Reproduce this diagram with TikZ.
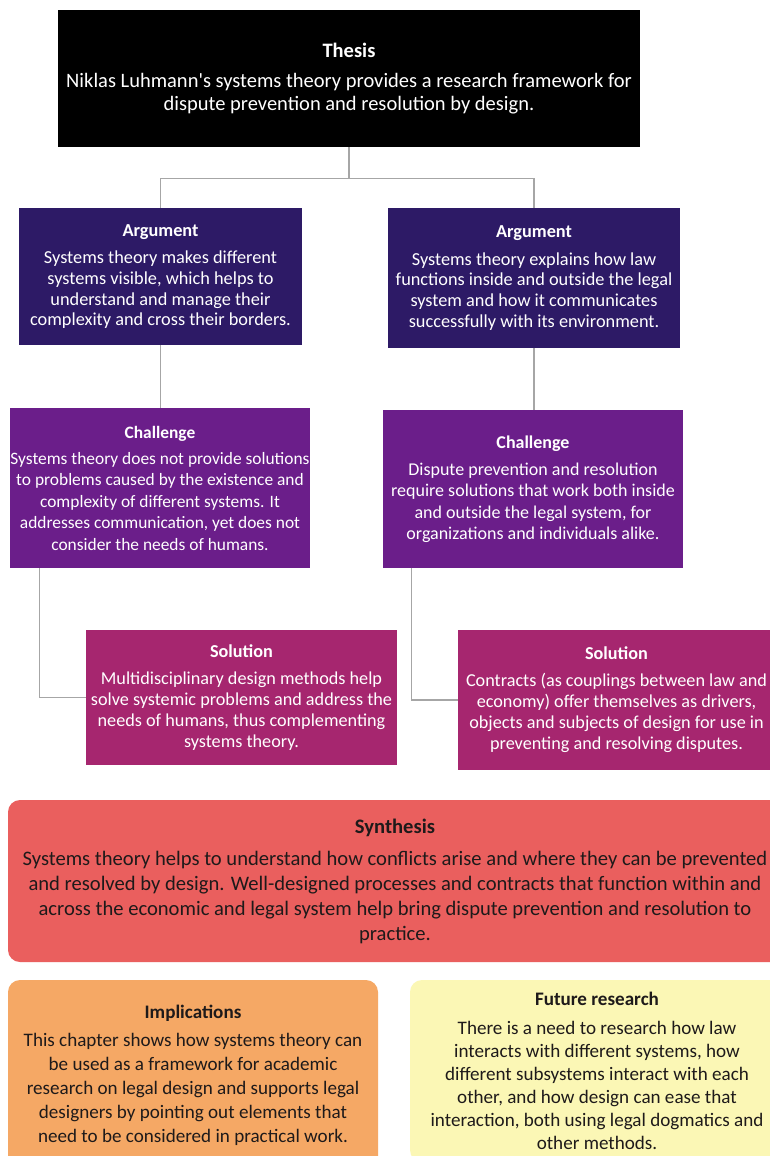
\documentclass[tikz,border=0pt]{standalone}
\usepackage{fontspec}
\setmainfont{Carlito}
\definecolor{argcol}{HTML}{2D1A66}
\definecolor{chalcol}{HTML}{6B1E8A}
\definecolor{solcol}{HTML}{A6266F}
\definecolor{syncol}{HTML}{EA5F5E}
\definecolor{impcol}{HTML}{F5A865}
\definecolor{futcol}{HTML}{FBF7B5}
\definecolor{conncol}{HTML}{A6A6A6}
\definecolor{darktext}{HTML}{1E1A1A}
\begin{document}
\begin{tikzpicture}[x=1pt,y=1pt,
  box/.style={rectangle, inner sep=0pt, align=center, text=white, anchor=center},
  conn/.style={draw=conncol, line width=1.3pt}]
\useasboundingbox (0,0) rectangle (770,-1156);
\fill[white] (0,0) rectangle (770,-1156);

\node[box, fill=black, minimum width=582, minimum height=137,
  font=\fontsize{20.5}{22.5}\selectfont] (thesis) at (349,-78.5)
  {\bfseries Thesis\\[8pt]Niklas Luhmann\textquotesingle s systems theory provides a research framework for\\dispute prevention and resolution by design.};

\node[box, fill=argcol, minimum width=283, minimum height=137,
  font=\fontsize{18.3}{20.7}\selectfont] (argL) at (160.5,-276.5)
  {\bfseries Argument\\[7pt]Systems theory makes different\\systems visible, which helps to\\understand and manage their\\complexity and cross their borders.};

\node[box, fill=argcol, minimum width=292, minimum height=140,
  font=\fontsize{18.3}{20.7}\selectfont] (argR) at (534,-278)
  {\bfseries Argument\\[7pt]Systems theory explains how law\\functions inside and outside the legal\\system and how it communicates\\successfully with its environment.};

\node[box, fill=chalcol, minimum width=300, minimum height=160,
  font=\fontsize{17.4}{21.5}\selectfont] (chalL) at (160,-488)
  {\bfseries Challenge\\[4.5pt]Systems theory does not provide solutions\\to problems caused by the existence and\\complexity of different systems. It\\addresses communication, yet does not\\consider the needs of humans.};

\node[box, fill=chalcol, minimum width=300, minimum height=158,
  font=\fontsize{18}{21.5}\selectfont] (chalR) at (533,-489)
  {\bfseries Challenge\\[5.5pt]Dispute prevention and resolution\\require solutions that work both inside\\and outside the legal system, for\\organizations and individuals alike.};

\node[box, fill=solcol, minimum width=311, minimum height=135,
  font=\fontsize{18.2}{21}\selectfont] (solL) at (241.5,-697.5)
  {\bfseries Solution\\[6pt]Multidisciplinary design methods help\\solve systemic problems and address the\\needs of humans, thus complementing\\systems theory.};

\node[box, fill=solcol, minimum width=317, minimum height=140,
  font=\fontsize{18.2}{21}\selectfont] (solR) at (616.5,-700)
  {\bfseries Solution\\[6pt]Contracts (as couplings between law and\\economy) offer themselves as drivers,\\objects and subjects of design for use in\\preventing and resolving disputes.};

\node[box, fill=syncol, rounded corners=12pt, minimum width=774, minimum height=162,
  text=darktext, font=\fontsize{20.6}{25}\selectfont] (synth) at (395,-881)
  {\bfseries Synthesis\\[7pt]Systems theory helps to understand how conflicts arise and where they can be prevented\\and resolved by design. Well-designed processes and contracts that function within and\\across the economic and legal system help bring dispute prevention and resolution to\\practice.};

\node[box, fill=impcol, rounded corners=12pt, minimum width=370, minimum height=190,
  text=darktext, font=\fontsize{19.1}{24}\selectfont] (impl) at (193,-1075)
  {\bfseries Implications\\[4pt]This chapter shows how systems theory can\\be used as a framework for academic\\research on legal design and supports legal\\designers by pointing out elements that\\need to be considered in practical work.};

\node[box, fill=futcol, rounded corners=12pt, minimum width=374, minimum height=182,
  text=darktext, font=\fontsize{19.1}{23}\selectfont] (fut) at (597,-1071)
  {\bfseries Future research\\[6pt]There is a need to research how law\\interacts with different systems, how\\different subsystems interact with each\\other, and how design can ease that\\interaction, both using legal dogmatics and\\other methods.};

\coordinate (split) at ([yshift=-31pt]thesis.south);
\draw[conn] (thesis.south) -- (split);
\draw[conn] (split) -| (argL.north);
\draw[conn] (split) -| (argR.north);
\draw[conn] (argL.south) -- (argL.south |- chalL.north);
\draw[conn] (argR.south) -- (argR.south |- chalR.north);
\draw[conn] ([xshift=30pt]chalL.south west) |- (solL.west);
\draw[conn] ([xshift=29pt]chalR.south west) |- (solR.west);
\end{tikzpicture}
\end{document}
